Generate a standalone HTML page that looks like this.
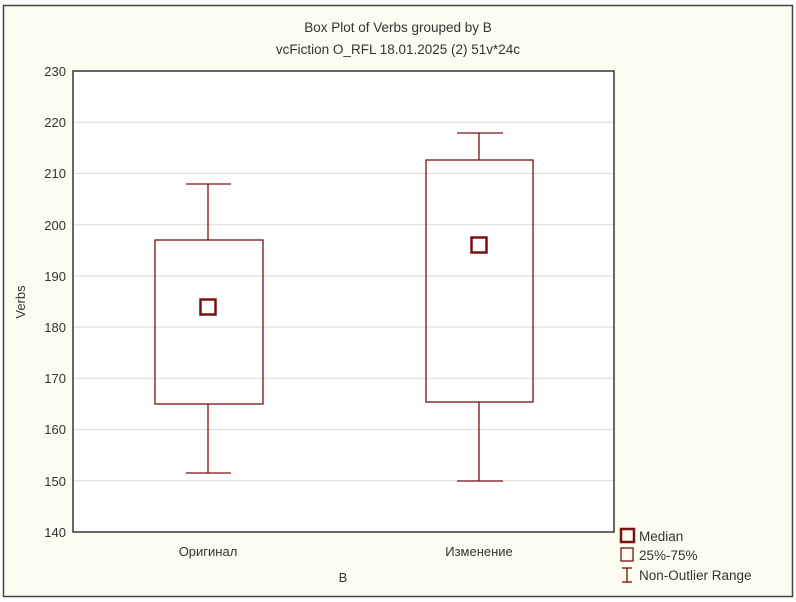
<!DOCTYPE html>
<html><head><meta charset="utf-8"><style>
body{margin:0;width:796px;height:602px;background:#fff;overflow:hidden}
svg{display:block;font-family:"Liberation Sans",sans-serif}
</style></head><body>
<svg width="796" height="602" viewBox="0 0 796 602">
<rect x="3.5" y="5.5" width="789" height="591" fill="#fdfcf0" stroke="#444" stroke-width="1.5"/>
<text x="398" y="32" font-size="13.5" text-anchor="middle" fill="#333">Box Plot of Verbs grouped by  B</text>
<text x="398" y="54" font-size="13.5" text-anchor="middle" fill="#333">vcFiction O_RFL 18.01.2025 (2) 51v*24c</text>
<rect x="73" y="71" width="541" height="461" fill="#fff"/>
<g stroke="#d8d8d8" stroke-width="1">
<line x1="73" x2="614" y1="122.2" y2="122.2"/><line x1="73" x2="614" y1="173.4" y2="173.4"/>
<line x1="73" x2="614" y1="224.7" y2="224.7"/><line x1="73" x2="614" y1="275.9" y2="275.9"/>
<line x1="73" x2="614" y1="327.1" y2="327.1"/><line x1="73" x2="614" y1="378.3" y2="378.3"/>
<line x1="73" x2="614" y1="429.6" y2="429.6"/><line x1="73" x2="614" y1="480.8" y2="480.8"/>
</g>
<rect x="73" y="71" width="541" height="461" fill="none" stroke="#333" stroke-width="1.5"/>
<g font-size="13" fill="#333" text-anchor="end">
<text x="66" y="76">230</text><text x="66" y="127">220</text><text x="66" y="178">210</text>
<text x="66" y="230">200</text><text x="66" y="281">190</text><text x="66" y="332">180</text>
<text x="66" y="383">170</text><text x="66" y="434">160</text><text x="66" y="486">150</text>
<text x="66" y="537">140</text>
</g>
<text transform="translate(25,302) rotate(-90)" font-size="13" fill="#333" text-anchor="middle">Verbs</text>
<g font-size="13" fill="#333" text-anchor="middle">
<text x="208" y="556">Оригинал</text><text x="479" y="556">Изменение</text>
<text x="343" y="582">B</text>
</g>
<g stroke="#7a1010" stroke-width="1.3" fill="none">
<rect x="155" y="240" width="108" height="164"/>
<line x1="208" x2="208" y1="184" y2="240"/><line x1="208" x2="208" y1="404" y2="473"/>
<line x1="186" x2="231" y1="184" y2="184"/><line x1="186" x2="231" y1="473" y2="473"/>
<rect x="200.5" y="299.5" width="15" height="15" stroke-width="2.5"/>
<rect x="426" y="160" width="107" height="242"/>
<line x1="479" x2="479" y1="133" y2="160"/><line x1="479" x2="479" y1="402" y2="481"/>
<line x1="457" x2="503" y1="133" y2="133"/><line x1="457" x2="503" y1="481" y2="481"/>
<rect x="471.5" y="237.5" width="15" height="15" stroke-width="2.5"/>
<rect x="621" y="529" width="13" height="13" stroke-width="2.5"/>
<rect x="621" y="548" width="12" height="13"/>
<line x1="627" x2="627" y1="568" y2="582"/><line x1="622" x2="632" y1="568" y2="568"/><line x1="622" x2="632" y1="582" y2="582"/>
</g>
<g font-size="13.5" fill="#333">
<text x="639" y="541">Median</text><text x="639" y="560">25%-75%</text><text x="639" y="580">Non-Outlier Range</text>
</g>
</svg>
</body></html>
